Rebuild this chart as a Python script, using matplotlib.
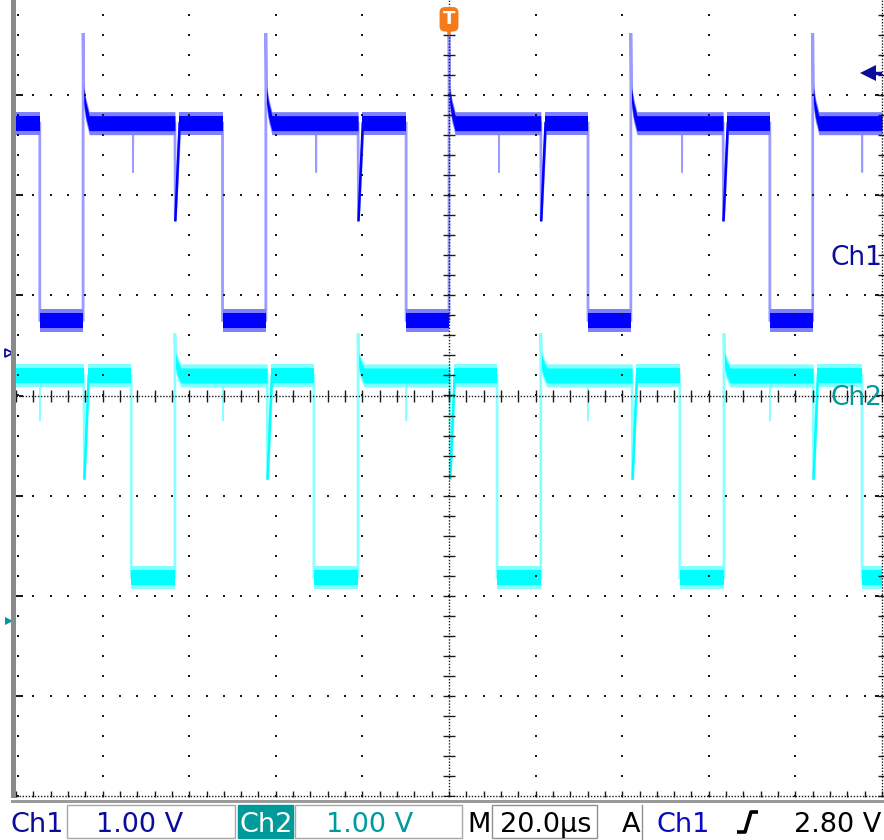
"""Two-channel scope capture (Ch1 / Ch2, 1 V/div, 20 us/div) redrawn with matplotlib."""
import numpy as np
import matplotlib
matplotlib.use("Agg")
import matplotlib.pyplot as plt
import matplotlib.transforms as mtransforms
from matplotlib.patches import Rectangle
from matplotlib.lines import Line2D

W, H = 884, 840

# ---- scope settings ----
TIME_DIV = 20.0        # us / div
VOLT_DIV = 1.0         # V / div (both channels)
CH1_POS = 0.42         # ground marker, divisions above centre
CH2_POS = -2.25
TRIG_T = 0.0           # us
TRIG_LEVEL = 2.80      # V on Ch1

# ---- Ch1 readings (us, V) ----
CH1_FALL = [-94.5, -52.3, -9.9, 32.1, 74.1]
CH1_RISE = [-84.5, -42.3, 0.0, 42.0, 84.0]
CH1_DIP = [-63.3, -21.0, 21.2, 63.3]            # coupling from Ch2 rising
CH1_GLITCH = [-73.0, -30.7, 11.5, 53.8, 95.4]   # coupling from Ch2 falling
CH1_HIGH, CH1_LOW = 2.30, 0.33
CH1_SPIKE, CH1_OVER = 3.20, 2.58
CH1_DIP_MIN, CH1_GLITCH_MIN = 1.33, 1.81

# ---- Ch2 readings (us, V) ----
CH2_FALL = [-73.4, -31.2, 11.1, 53.3, 95.4]
CH2_RISE = [-63.3, -21.0, 21.2, 63.5]
CH2_DIP = [-84.3, -42.0, 0.2, 42.3, 84.1]       # coupling from Ch1 rising
CH2_GLITCH = [-94.5, -52.2, -9.9, 32.1, 74.1]   # coupling from Ch1 falling
CH2_HIGH, CH2_LOW = 2.45, 0.43
CH2_SPIKE, CH2_OVER = 2.87, 2.60
CH2_DIP_MIN, CH2_GLITCH_MIN = 1.42, 2.00

BLUE, BLUE_LT, BLUE_FR, NAVY = "#0000ff", "#9a9aff", "#8080ff", "#0c0c9c"
CYAN, CYAN_LT, CYAN_FR, TEAL = "#00ffff", "#8affff", "#80ffff", "#009a9a"
ORANGE, DOT = "#f47a1c", "#1a1a1a"

XMAX = 5 * TIME_DIV
PX = TIME_DIV / 86.6   # one screen pixel in us


def build(fall, rise, dip, glitch, high, low, spike, over, dip_min, glitch_min):
    ev = sorted([(t, "fall") for t in fall] + [(t, "rise") for t in rise]
                + [(t, "dip") for t in dip] + [(t, "glitch") for t in glitch])
    lvl = low if ev[0][1] == "rise" else high
    line, dark, spikes, bands = [(-XMAX, lvl)], [], [], []
    seg = [(-XMAX, lvl)]
    for t, kind in ev:
        if kind == "fall":
            seg.append((t, high)); bands.append(seg)
            line += [(t, high), (t, low)]
            seg, lvl = [(t, low)], low
        elif kind == "rise":
            seg.append((t, low)); bands.append(seg)
            line += [(t, low), (t, spike), (t + 0.15, over), (t + 1.2, high)]
            seg, lvl = [(t + 0.15, over), (t + 0.6, (over + high) / 2), (t + 1.4, high)], high
        elif kind == "dip":
            seg.append((t, high)); bands.append(seg)
            line += [(t, high), (t + 0.1, dip_min), (t + 1.2, high)]
            dark.append([(t + 0.1, dip_min), (t + 1.1, high)])
            seg = [(t + 0.9, high)]
        else:
            spikes.append([(t, high), (t + 0.05, glitch_min), (t + 0.1, high)])
    seg.append((XMAX, lvl)); bands.append(seg)
    line.append((XMAX, lvl))
    return (np.array(line), [np.array(s) for s in bands], [np.array(d) for d in dark],
            [np.array(s) for s in spikes])


def draw_trace(ax, data, pos, c_core, c_fringe, c_edge, core, fringe):
    line, bands, dark, spikes = data
    ax.plot(line[:, 0], line[:, 1] / VOLT_DIV + pos, color=c_edge, lw=2.0, zorder=2,
            solid_joinstyle="miter")
    for s in spikes:
        ax.plot(s[:, 0], s[:, 1] / VOLT_DIV + pos, color=c_edge, lw=1.2, zorder=2)
    for b in bands:
        y = b[:, 1] / VOLT_DIV + pos
        ax.fill_between(b[:, 0], y - fringe, y + fringe, color=c_fringe, lw=0, zorder=3)
        ax.fill_between(b[:, 0], y - core, y + core, color=c_core, lw=0, zorder=3)
    for d in dark:
        ax.plot(d[:, 0], d[:, 1] / VOLT_DIV + pos, color=c_core, lw=1.8, zorder=3)


ch1 = build(CH1_FALL, CH1_RISE, CH1_DIP, CH1_GLITCH, CH1_HIGH, CH1_LOW,
            CH1_SPIKE, CH1_OVER, CH1_DIP_MIN, CH1_GLITCH_MIN)
ch2 = build(CH2_FALL, CH2_RISE, CH2_DIP, CH2_GLITCH, CH2_HIGH, CH2_LOW,
            CH2_SPIKE, CH2_OVER, CH2_DIP_MIN, CH2_GLITCH_MIN)

fig = plt.figure(figsize=(W / 100, H / 100), dpi=100, facecolor="white")
ax = fig.add_axes([16 / W, 44 / H, 866 / W, 801 / H])
ax.set_xlim(-XMAX, XMAX); ax.set_ylim(-4, 4)
ax.axis("off")

draw_trace(ax, ch1, CH1_POS, BLUE, BLUE_FR, BLUE_LT, 0.075, 0.115)
draw_trace(ax, ch2, CH2_POS, CYAN, CYAN_FR, CYAN_LT, 0.075, 0.115)

# ---- graticule ----
minor_x = np.arange(-XMAX, XMAX + 1e-9, TIME_DIV / 5)
minor_y = np.arange(-4, 4 + 1e-9, 0.2)
dot = dict(ls="none", marker="s", ms=1.6, mew=0, color=DOT, zorder=5, clip_on=False)
for xv in np.arange(-4, 5) * TIME_DIV:
    if xv != 0:
        ax.plot(np.full_like(minor_y, xv), minor_y, **dot)
for yv in range(-3, 4):
    if yv != 0:
        ax.plot(minor_x, np.full_like(minor_x, float(yv)), **dot)
dense = dict(color=DOT, lw=1.0, ls=(0, (1, 1.2)), zorder=5, clip_on=False)
ax.axhline(0, **dense); ax.axvline(TRIG_T, **dense)
ax.plot(minor_x, np.zeros_like(minor_x), ls="none", marker="|", ms=8, mew=1, color=DOT, zorder=5)
ax.plot(np.zeros_like(minor_y), minor_y, ls="none", marker="_", ms=8, mew=1, color=DOT, zorder=5)
# frame rulers
ax.axvline(XMAX, **dense); ax.axhline(-4, **dense)
ax.plot(np.full_like(minor_y, XMAX - 1.2 * PX), minor_y, ls="none", marker="_", ms=5,
        mew=1, color=DOT, zorder=5, clip_on=False)
ax.plot(minor_x, np.full_like(minor_x, -3.985), ls="none", marker="|", ms=5, mew=1,
        color=DOT, zorder=5, clip_on=False)
ax.plot(np.full_like(minor_y, -XMAX + 2 * PX), minor_y, **dot)
for yv in range(-3, 4):
    ax.plot([-XMAX + 4 * PX, -XMAX + 6 * PX], [yv, yv], **dot)
    ax.plot([XMAX - 6 * PX, XMAX - 4 * PX], [yv, yv], **dot)

# left gray bar and bottom gray rule
fig.add_artist(Rectangle((11 / W, 1 - 798 / H), 5 / W, 798 / H, transform=fig.transFigure,
                         color="#8a8a8a", lw=0))
fig.add_artist(Rectangle((11 / W, 1 - 803 / H), 873 / W, 3 / H, transform=fig.transFigure,
                         color="#9a9a9a", lw=0))

# ---- markers: trigger position, trigger level, ground references ----
ax.annotate("T", xy=(TRIG_T, 1), xycoords=("data", "axes fraction"), xytext=(0, -17.5),
            textcoords="offset points", ha="center", va="center", color="white",
            fontsize=13, fontweight="bold", zorder=8, annotation_clip=False,
            bbox=dict(boxstyle="round,pad=0.18,rounding_size=0.3", fc=ORANGE, ec="none"))
ax.plot([TRIG_T], [3.65], marker="v", ms=8, color=ORANGE, mew=0, clip_on=False, zorder=8)

lvl_y = TRIG_LEVEL / VOLT_DIV + CH1_POS
ax.plot([XMAX - 14 * PX, XMAX - 2 * PX], [lvl_y, lvl_y], color=NAVY, lw=2.5, zorder=8,
        clip_on=False)
ax.plot([XMAX - 14 * PX], [lvl_y], marker="<", ms=11, color=NAVY, mew=0, zorder=8,
        clip_on=False)

trans = mtransforms.blended_transform_factory(ax.transAxes, ax.transData)
ax.plot([-0.008], [CH1_POS], marker=">", ms=6, mfc="none", mec=NAVY, mew=1.3,
        transform=trans, clip_on=False)
ax.plot([-0.008], [CH2_POS], marker=">", ms=6, color=TEAL, mew=0, transform=trans,
        clip_on=False)


def fx(px):
    return px / W


def fy(py):
    return 1 - py / H


FS = 19.5
fig.text(fx(830), fy(265), "Ch1", color=NAVY, fontsize=19, va="baseline")
fig.text(fx(830), fy(405), "Ch2", color=TEAL, fontsize=19, va="baseline")

# ---- status bar ----
def box(x0, x1, fc="none", ec="#a8a8a8"):
    fig.add_artist(Rectangle((fx(x0), fy(838)), (x1 - x0) / W, 33 / H,
                             transform=fig.transFigure, fc=fc, ec=ec, lw=1))


box(67, 235)
box(238, 293, fc=TEAL, ec=TEAL)
box(295, 462)
box(492, 597, ec="#909090")
fig.add_artist(Line2D([fx(642), fx(642)], [fy(805), fy(840)], color="#909090", lw=1,
                      transform=fig.transFigure))
base = fy(832)
fig.text(fx(11), base, "Ch1", color=NAVY, fontsize=FS, va="baseline")
fig.text(fx(183), base, "1.00 V", color=NAVY, fontsize=FS, va="baseline", ha="right")
fig.text(fx(240), base, "Ch2", color="white", fontsize=FS, va="baseline")
fig.text(fx(413), base, "1.00 V", color=TEAL, fontsize=FS, va="baseline", ha="right")
fig.text(fx(467), base, "M", color="black", fontsize=FS, va="baseline")
fig.text(fx(592), base, "20.0µs", color="black", fontsize=FS, va="baseline", ha="right")
fig.text(fx(622), base, "A", color="black", fontsize=FS, va="baseline")
fig.text(fx(657), base, "Ch1", color="#0a0ac4", fontsize=FS, va="baseline")
fig.add_artist(Line2D([fx(737), fx(745), fx(751), fx(758)],
                      [fy(832), fy(832), fy(812), fy(812)], color="black", lw=2.6,
                      transform=fig.transFigure, solid_capstyle="butt"))
fig.text(fx(881), base, "2.80 V", color="black", fontsize=FS, va="baseline", ha="right")

fig.savefig("out.png", dpi=100, facecolor="white")
